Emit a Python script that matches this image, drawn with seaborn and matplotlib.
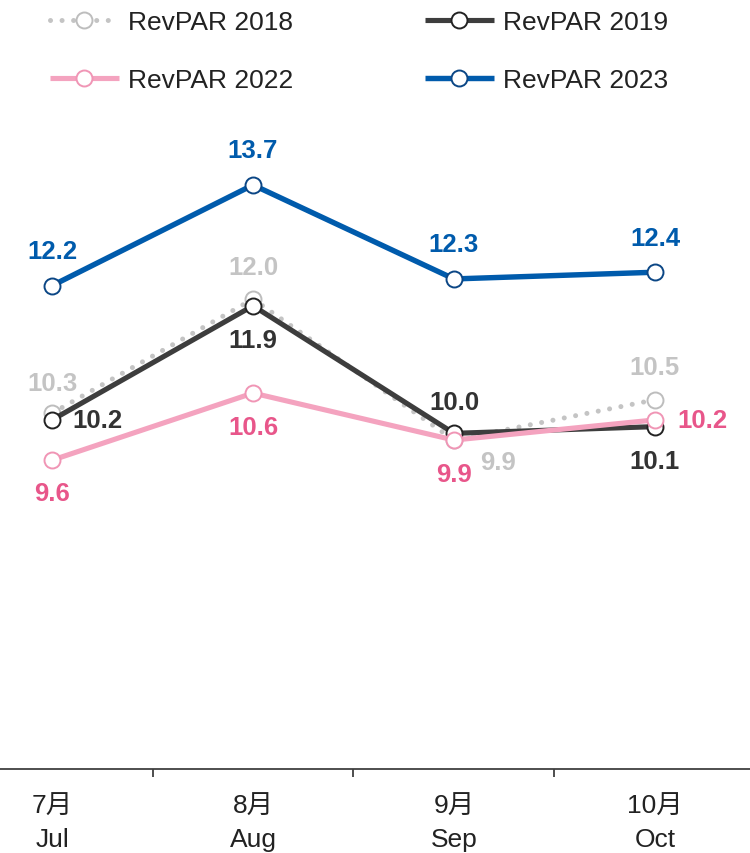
import matplotlib
matplotlib.use("Agg")
import matplotlib.pyplot as plt
import seaborn as sns
import numpy as np
import pandas as pd

months_cn = ["7月", "8月", "9月", "10月"]
months_en = ["Jul", "Aug", "Sep", "Oct"]
rev_2018 = [10.3, 12.0, 9.9, 10.5]
rev_2019 = [10.2, 11.9, 10.0, 10.1]
rev_2022 = [9.6, 10.6, 9.9, 10.2]
rev_2023 = [12.2, 13.7, 12.3, 12.4]
series_names = ["RevPAR 2018", "RevPAR 2019", "RevPAR 2022", "RevPAR 2023"]

sns.set_theme(style="white")
plt.rcParams['font.family'] = ['Liberation Sans', 'Noto Sans CJK SC', 'DejaVu Sans']

fig = plt.figure(figsize=(7.5, 8.54), dpi=100)
ax = fig.add_axes([0, 1 - 770 / 854, 1, 770 / 854])

x = np.arange(len(months_en))
styles = [
    dict(data=rev_2018, color="#c4c4c4", mec="#bdbdbd", lab="#c4c4c4", ls=(0, (0.01, 2.3)), lw=3.6),
    dict(data=rev_2019, color="#3d3d3d", mec="#222222", lab="#333333", ls="-", lw=3.7),
    dict(data=rev_2022, color="#f4a3bf", mec="#f095b5", lab="#e8568a", ls="-", lw=3.7),
    dict(data=rev_2023, color="#005bac", mec="#0b4685", lab="#005bac", ls="-", lw=3.9),
]

handles = []
for i, (name, st) in enumerate(zip(series_names, styles)):
    df = pd.DataFrame({"x": x, "y": st["data"]})
    sns.lineplot(data=df, x="x", y="y", ax=ax, color=st["color"], linewidth=st["lw"],
                 marker="o", markersize=11.5, markerfacecolor="white",
                 markeredgecolor=st["mec"], markeredgewidth=1.4, zorder=3 + i,
                 label=name, legend=False)
    line = ax.lines[-1]
    line.set_linestyle(st["ls"])
    line.set_dash_capstyle("round")
    line.set_solid_capstyle("butt")
    handles.append(line)

# label offsets in pixels (dx, dy)
offsets = [
    [(0, 30), (0, 32), (44, -22), (0, 33)],
    [(45, 0), (0, -34), (0, 31), (0, -34)],
    [(0, -33), (0, -34), (0, -34), (47, 0)],
    [(0, 35), (0, 35), (0, 35), (0, 34)],
]
for st, offs in zip(styles, offsets):
    for xi, v, (dx, dy) in zip(x, st["data"], offs):
        ax.annotate(f"{v:.1f}", (xi, v), xytext=(dx, dy), textcoords="offset pixels",
                    ha="center", va="center", fontsize=18.5, fontweight="bold",
                    color=st["lab"], zorder=10)

ax.set_xlim(-0.259, 3.473)
ax.set_ylim(5.0, 16.47)
ax.set_xticks(x)
ax.set_xticklabels([f"{c}\n{e}" for c, e in zip(months_cn, months_en)],
                   fontsize=19, color="#222222", linespacing=1.5)
ax.set_xticks([0.5, 1.5, 2.5], minor=True)
ax.tick_params(axis="x", which="major", length=0, pad=18)
ax.tick_params(axis="x", which="minor", length=6, width=1.3, color="#404040", direction="out", bottom=True)
ax.set_yticks([])
ax.set_xlabel("")
ax.set_ylabel("")
for s in ["left", "right", "top"]:
    ax.spines[s].set_visible(False)
ax.spines["bottom"].set_color("#404040")
ax.spines["bottom"].set_linewidth(1.3)
ax.patch.set_alpha(0)

order = [0, 2, 1, 3]
fig.legend(handles=[handles[k] for k in order], labels=[series_names[k] for k in order],
           ncol=2, loc="upper left",
           bbox_to_anchor=(50 / 750, 1 - 11 / 854), frameon=False, fontsize=19,
           handlelength=2.6, handletextpad=0.35, columnspacing=5.0, labelspacing=1.3,
           borderpad=0, borderaxespad=0, labelcolor="#222222")

fig.savefig("out.png", dpi=100)
